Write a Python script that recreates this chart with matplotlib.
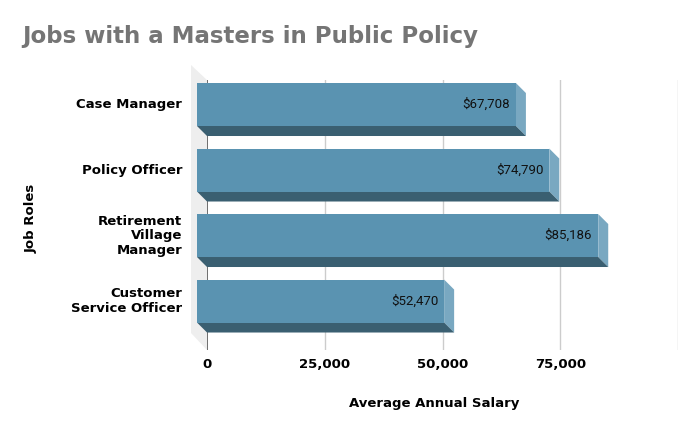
import matplotlib
matplotlib.use("Agg")
import matplotlib.pyplot as plt
from matplotlib.patches import Polygon
from matplotlib.transforms import ScaledTranslation, IdentityTransform

# ---- data ----
job_roles = ["Case Manager", "Policy Officer", "Retirement\nVillage\nManager",
             "Customer\nService Officer"]
salaries = [67708, 74790, 85186, 52470]
value_labels = ["$67,708", "$74,790", "$85,186", "$52,470"]
x_ticks = [0, 25000, 50000, 75000]
x_tick_labels = ["0", "25,000", "50,000", "75,000"]
grid_values = [25000, 50000, 75000, 100000]
title = "Jobs with a Masters in Public Policy"
x_label = "Average Annual Salary"
y_label = "Job Roles"

W, H = 700, 433
DPI = 100
fig = plt.figure(figsize=(W / DPI, H / DPI), dpi=DPI)

def fx(px):
    return px / W

def fy(py):
    return 1 - py / H

# plot (back plane) area in pixels
L, R, T, B = 207, 678, 80, 350
ax = fig.add_axes([fx(L), fy(B), fx(R - L), (B - T) / H])
ax.set_xlim(0, 100000)
ax.set_ylim(3.595, -0.527)
ax.axis("off")

# side wall
wall = Polygon([(fx(191), fy(65)), (fx(207), fy(80)), (fx(207), fy(350)), (fx(191), fy(333))],
               closed=True, transform=fig.transFigure, facecolor="#eeeeee",
               edgecolor="none", zorder=-1)
fig.patches.append(wall)

# grid lines
for g in grid_values:
    ax.axvline(g, color="#cccccc", lw=1, zorder=1)
ax.axvline(0, color="#555555", lw=1.2, zorder=1)

c_front = "#5a93b1"
c_bottom = "#3a5f71"
c_side = "#79a8c1"
bar_h = 0.656
dpx = 10  # depth in pixels
ident = IdentityTransform()

fig.canvas.draw()
for i, v in enumerate(salaries):
    (xl, yt), = ax.transData.transform([(0, i - bar_h / 2)])
    (xr, yb), = ax.transData.transform([(v, i + bar_h / 2)])
    top_d, bot_d = max(yt, yb), min(yt, yb)
    fl, fr = xl - dpx, xr - dpx
    ft, fb = top_d + dpx, bot_d + dpx
    side = Polygon([(fr, ft), (xr, top_d), (xr, bot_d), (fr, fb)], closed=True,
                   transform=ident, facecolor=c_side, edgecolor="none", zorder=2)
    bottom = Polygon([(fl, fb), (fr, fb), (xr, bot_d), (xl, bot_d)], closed=True,
                     transform=ident, facecolor=c_bottom, edgecolor="none", zorder=2)
    front = Polygon([(fl, ft), (fr, ft), (fr, fb), (fl, fb)], closed=True,
                    transform=ident, facecolor=c_front, edgecolor="none", zorder=3)
    for p in (side, bottom, front):
        ax.add_patch(p)
        p.set_clip_on(False)

# value labels
for i, (v, lab) in enumerate(zip(salaries, value_labels)):
    tr = ax.transData + ScaledTranslation(-0.16, 0.10, fig.dpi_scale_trans)
    ax.text(v, i, lab, transform=tr, ha="right", va="center", fontsize=9.5,
            family="Roboto", color="#111111", zorder=4)

# category labels
for i, lab in enumerate(job_roles):
    tr = ax.get_yaxis_transform() + ScaledTranslation(0, 0.10, fig.dpi_scale_trans)
    ax.text((182 - L) / (R - L), i, lab, transform=tr, ha="right", va="center",
            multialignment="right", fontsize=9.5, fontweight="bold",
            family="DejaVu Sans", color="#000000", linespacing=1.15)

# x tick labels
for t, lab in zip(x_ticks, x_tick_labels):
    tr = ax.get_xaxis_transform()
    ax.text(t, (B - 365) / (B - T), lab, transform=tr, ha="center", va="center",
            fontsize=9.5, fontweight="bold", family="DejaVu Sans", color="#000000")

fig.text(fx(434), fy(404), x_label, ha="center", va="center", fontsize=9.5,
         fontweight="bold", family="DejaVu Sans", color="#000000")
fig.text(fx(31), fy(218), y_label, ha="center", va="center", rotation=90,
         fontsize=9.5, fontweight="bold", family="DejaVu Sans", color="#000000")
fig.text(fx(22), fy(37), title, ha="left", va="center", fontsize=16.5,
         fontweight="bold", family="DejaVu Sans", color="#757575")

fig.savefig("out.png", dpi=DPI)
